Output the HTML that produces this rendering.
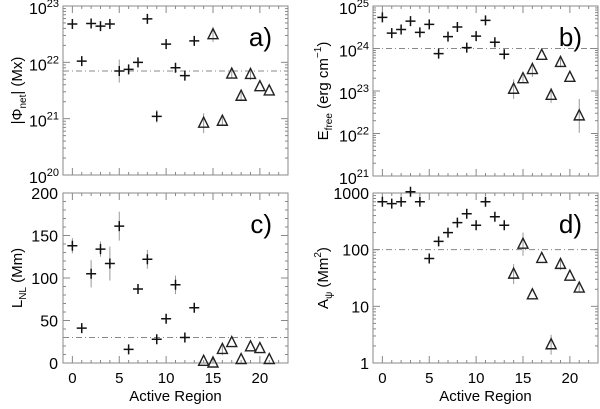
<!DOCTYPE html>
<html><head><meta charset="utf-8"><style>
html,body{margin:0;padding:0;background:#fff;}
svg{display:block;font-family:"Liberation Sans",sans-serif;}
</style></head><body>
<svg id="fig" width="600" height="409" viewBox="0 0 600 409"></svg>
<script>
const regions=[0,1,2,3,4,5,6,7,8,9,10,11,12,13,14,15,16,17,18,19,20,21];
const isTri=[0,0,0,0,0,0,0,0,0,0,0,0,0,0,1,1,1,1,1,1,1,1];
const fluxVals=[4.8e22,1.05e22,4.9e22,4.4e22,4.8e22,7e21,7.5e21,1.0e22,5.9e22,1.1e21,2.1e22,8e21,5.8e21,2.4e22,8.3e20,3.1e22,9e20,6.2e21,2.5e21,6.1e21,3.7e21,3.1e21];
const fluxErr=[0,0,0,0,0,1.6,0,0,0,1.3,0,0,0,0,1.5,1.35,1.2,1.2,1.15,1.25,0,0];
const energyVals=[5.4e24,2.3e24,2.8e24,4.4e24,2.4e24,3.7e24,7.6e23,1.9e24,3.2e24,1.05e24,1.95e24,4.6e24,1.4e24,7.3e23,1.1e23,1.95e23,3.2e23,6.9e23,7.9e22,4.7e23,2.1e23,2.6e22];
const energyErr=[0,0,0,0,0,0,0,0,0,0,0,0,0,0,1.7,1.2,1.5,0,1.5,1.3,0,2.5];
const lengthVals=[138,41,105,134,117,161,16,87,122,28,52,92,30,65,2,0,16,24,4,19,17,4];
const lengthErr=[9,0,16,9,20,17,0,0,11,0,5,11,0,0,0,0,7,0,0,0,0,0];
const areaVals=[700,650,700,1050,700,70,140,200,300,430,270,700,380,270,37,125,16,70,2.1,55,34,21];
const areaErr=[0,0,0,0,0,0,0,0,0,0,0,0,0,0,1.5,1.6,0,0,1.5,1.25,0,1.2];
const xTicks=[0,5,10,15,20];
const NS="http://www.w3.org/2000/svg";
const svg=document.getElementById('fig');
function el(tag,attrs,parent){const e=document.createElementNS(NS,tag);for(const k in attrs)e.setAttribute(k,attrs[k]);(parent||svg).appendChild(e);return e;}

function panel(cfg){
  const g=el('g',{});
  
  
  const L=cfg.L,R=cfg.R,T=cfg.T,B=cfg.B;
  const xs=v=>L+(v+1)/24*(R-L);
  const ys=cfg.log?(v=>B-(Math.log10(v)-cfg.lo)/(cfg.hi-cfg.lo)*(B-T)):(v=>B-(v-cfg.lo)/(cfg.hi-cfg.lo)*(B-T));
  const frame=el('rect',{x:L,y:T,width:R-L,height:B-T,fill:'none',stroke:'#888','stroke-width':1},g);
  
  
  for(let v=-1;v<=23;v++){
    const x=xs(v);const major=v%5===0&&v>=0;const len=major?7:3;
    el('line',{x1:x,y1:B,x2:x,y2:B-len,stroke:'#888'},g);
    el('line',{x1:x,y1:T,x2:x,y2:T+len,stroke:'#888'},g);
  }
  if(cfg.xlabels){
    xTicks.forEach(v=>{const t=el('text',{x:xs(v),y:B+20,'text-anchor':'middle','font-size':15},g);t.textContent=v;
      });
    const xt=el('text',{x:(L+R)/2,y:B+38,'text-anchor':'middle','font-size':15},g);xt.textContent='Active Region';
    
  }
  if(cfg.log){
    for(let d=cfg.lo;d<=cfg.hi;d++){
      const y=ys(Math.pow(10,d));
      el('line',{x1:L,y1:y,x2:L+7,y2:y,stroke:'#888'},g);el('line',{x1:R,y1:y,x2:R-7,y2:y,stroke:'#888'},g);
      if(d<cfg.hi)for(let m=2;m<10;m++){const ym=ys(m*Math.pow(10,d));
        el('line',{x1:L,y1:ym,x2:L+3,y2:ym,stroke:'#888'},g);el('line',{x1:R,y1:ym,x2:R-3,y2:ym,stroke:'#888'},g);}
      const t=el('text',{x:L-4,y:y+(cfg.plain?6:8),'text-anchor':'end','font-size':16},g);
      
      if(cfg.plain){t.textContent=String(Math.pow(10,d));}
      else{t.textContent='10';const s=el('tspan',{'font-size':11,dy:-7},t);s.textContent=d;}
    }
  } else {
    for(let v=cfg.lo;v<=cfg.hi;v+=10){const y=ys(v);const major=v%50===0;const len=major?7:3;
      el('line',{x1:L,y1:y,x2:L+len,y2:y,stroke:'#888'},g);el('line',{x1:R,y1:y,x2:R-len,y2:y,stroke:'#888'},g);
      if(major){const t=el('text',{x:L-5,y:y+6,'text-anchor':'end','font-size':16},g);t.textContent=v;
        }}
  }
  const th=el('line',{x1:L,y1:ys(cfg.thr),x2:R,y2:ys(cfg.thr),stroke:'#888','stroke-dasharray':'6,3,1,3'},g);
  
  regions.forEach((r,i)=>{
    const v=cfg.vals[i];const x=xs(r);const y=ys(cfg.log?Math.max(v,1e-30):v);
    const e=cfg.err[i];
    if(e){let y1,y2;if(cfg.log){y1=ys(v*e);y2=ys(v/e);}else{y1=ys(v+e);y2=ys(Math.max(v-e,cfg.lo));}
      const eb=el('line',{x1:x,y1:y1,x2:x,y2:y2,stroke:'#999','stroke-width':1},g);
      }
    let m;
    if(isTri[i]){m=el('path',{d:`M${x-5},${y+4}L${x},${y-6}L${x+5},${y+4}Z`,fill:'none',stroke:'#222','stroke-width':1.4},g);
      }
    else{m=el('path',{d:`M${x-5},${y}H${x+5}M${x},${y-5}V${y+5}`,stroke:'#111','stroke-width':1.5},g);
      }
    
  });
  const lt=el('text',{x:R-16,y:T+40,'text-anchor':'end','font-size':26},g);lt.textContent=cfg.letter;
  
  const yt=el('text',{transform:`translate(${cfg.ylx},${(T+B)/2}) rotate(-90)`,'text-anchor':'middle','font-size':15},g);
  
  cfg.ytitle(yt);
}
function sub(t,main,s,rest){t.appendChild(document.createTextNode(main));const a=el('tspan',{'font-size':10,dy:4},t);a.textContent=s;const b=el('tspan',{dy:-4},t);b.textContent=rest;}
panel({name:'panel-a',L:63,R:288,T:6,B:175,log:true,lo:20,hi:23,vals:fluxVals,err:fluxErr,thr:7e21,letter:'a)',ylx:22,
  ytitle:t=>sub(t,'|Φ','net','| (Mx)')});
panel({name:'panel-b',L:373,R:598,T:6,B:176,log:true,lo:21,hi:25,vals:energyVals,err:energyErr,thr:1e24,letter:'b)',ylx:328,
  ytitle:t=>{sub(t,'E','free',' (erg cm');const s=el('tspan',{'font-size':10,dy:-7},t);s.textContent='−1';const r=el('tspan',{dy:7},t);r.textContent=')';}});
panel({name:'panel-c',L:63,R:288,T:193,B:363,log:false,lo:0,hi:200,vals:lengthVals,err:lengthErr,thr:30,letter:'c)',ylx:22,xlabels:true,
  ytitle:t=>sub(t,'L','NL',' (Mm)')});
panel({name:'panel-d',L:373,R:598,T:193,B:363,log:true,plain:true,lo:0,hi:3,vals:areaVals,err:areaErr,thr:100,letter:'d)',ylx:328,xlabels:true,
  ytitle:t=>{sub(t,'A','ψ',' (Mm');const s=el('tspan',{'font-size':10,dy:-7},t);s.textContent='2';const r=el('tspan',{dy:7},t);r.textContent=')';}});
</script>
</body></html>
